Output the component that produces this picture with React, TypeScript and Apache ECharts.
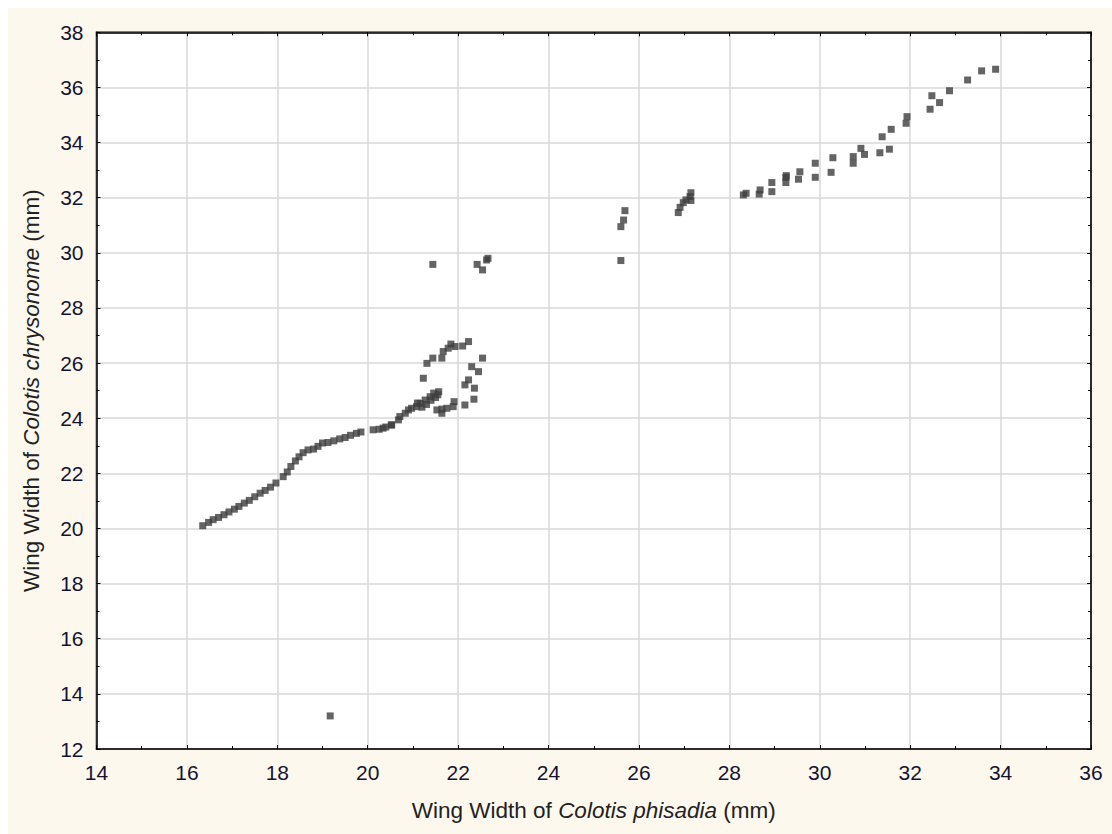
import React, { useEffect, useRef } from "react";
import * as echarts from "echarts";

// Wing width of Colotis phisadia (x) vs Colotis chrysonome (y), in mm
const lowerTrend: [number, number][] = [
  [16.35, 20.1], [16.48, 20.22], [16.58, 20.32], [16.7, 20.4], [16.82, 20.5],
  [16.93, 20.6], [17.05, 20.7], [17.15, 20.8], [17.27, 20.92], [17.38, 21.02],
  [17.5, 21.15], [17.62, 21.28], [17.73, 21.38], [17.85, 21.5], [17.97, 21.65],
  [18.13, 21.88], [18.22, 22.05], [18.3, 22.25], [18.4, 22.45], [18.48, 22.6],
  [18.57, 22.75], [18.68, 22.85], [18.8, 22.88], [18.9, 22.98], [19.0, 23.1],
  [19.12, 23.12], [19.25, 23.18], [19.38, 23.25], [19.5, 23.3], [19.62, 23.38],
  [19.75, 23.45], [19.85, 23.5], [20.12, 23.58], [20.25, 23.6], [20.4, 23.68],
  [20.52, 23.75], [20.34, 23.64], [20.53, 23.76], [20.68, 23.94], [20.71, 24.06],
  [20.83, 24.18], [20.97, 24.36], [21.08, 24.42], [21.16, 24.54], [21.27, 24.66],
  [21.38, 24.78], [21.46, 24.91], [21.57, 24.96], [20.9, 24.3], [21.1, 24.55],
  [21.3, 24.5], [21.4, 24.65], [21.5, 24.75], [21.55, 24.85], [21.2, 24.4],
];

const loopPoints: [number, number][] = [
  [21.23, 25.45], [21.31, 25.99], [21.44, 26.18], [21.64, 26.18], [21.67, 26.42],
  [21.78, 26.54], [21.84, 26.69], [21.93, 26.6], [22.1, 26.62], [22.23, 26.78],
  [22.54, 26.18], [22.3, 25.87], [22.45, 25.69], [22.23, 25.39], [22.15, 25.21],
  [22.36, 25.09], [22.35, 24.69], [22.15, 24.48], [21.91, 24.6], [21.89, 24.42],
  [21.75, 24.36], [21.64, 24.18], [21.53, 24.3], [21.64, 24.33],
];

const midPoints: [number, number][] = [
  [21.44, 29.58], [22.42, 29.58], [22.54, 29.38], [22.63, 29.74], [22.66, 29.8],
  [25.6, 29.72], [25.6, 30.95], [25.66, 31.19], [25.69, 31.53],
  [26.87, 31.46], [26.91, 31.65], [26.98, 31.82], [27.04, 31.92], [27.13, 32.04],
  [27.15, 32.18], [27.15, 31.9],
];

const upperCluster: [number, number][] = [
  [28.31, 32.1], [28.37, 32.16], [28.66, 32.13], [28.68, 32.28], [28.94, 32.22],
  [28.94, 32.55], [29.25, 32.55], [29.25, 32.74], [29.26, 32.8], [29.53, 32.67],
  [29.56, 32.94], [29.9, 32.74], [29.9, 33.25], [30.25, 32.92], [30.29, 33.45],
  [30.74, 33.25], [30.74, 33.49], [30.91, 33.79], [30.99, 33.57], [31.33, 33.63],
  [31.54, 33.76], [31.38, 34.21], [31.58, 34.48], [31.91, 34.7], [31.93, 34.94],
  [32.44, 35.21], [32.48, 35.7], [32.65, 35.45], [32.87, 35.88], [33.27, 36.27],
  [33.58, 36.6], [33.89, 36.66],
];

const outliers: [number, number][] = [[19.17, 13.2]];

const xMin = 14;
const xMax = 36;
const yMin = 12;
const yMax = 38;

export default function App() {
  const ref = useRef<HTMLDivElement>(null);

  useEffect(() => {
    if (!ref.current) return;
    const chart = echarts.init(ref.current, null, { renderer: "svg" });
    const font = "Liberation Sans, Arial, sans-serif";
    const labelColor = "#141432";
    const titleStyle = {
      fontSize: 22.5,
      color: "#222",
      fontFamily: font,
      rich: { i: { fontStyle: "italic", fontSize: 22.5, color: "#222", fontFamily: font } },
    };
    const axisCommon = {
      axisLine: { show: true, onZero: false, lineStyle: { color: "#000", width: 1.5 } },
      axisTick: { show: true, inside: true, length: 4, lineStyle: { color: "#000", width: 1 } },
      minorTick: { show: true, splitNumber: 2, length: 3, lineStyle: { color: "#000", width: 1 } },
      splitLine: { show: true, lineStyle: { color: "#d9d9d9", width: 1.5 } },
    };
    chart.setOption({
      animation: false,
      backgroundColor: "#fdf8ee",
      grid: {
        left: 88.5,
        top: 24.3,
        right: 21,
        bottom: 85,
        show: true,
        backgroundColor: "#ffffff",
        borderColor: "#000",
        borderWidth: 1.5,
      },
      xAxis: [
        {
          type: "value",
          min: xMin,
          max: xMax,
          interval: 2,
          position: "bottom",
          ...axisCommon,
          axisLabel: { fontSize: 21, color: labelColor, fontFamily: font, margin: 13 },
          name: "Wing Width of {i|Colotis phisadia} (mm)",
          nameLocation: "middle",
          nameGap: 50,
          nameTextStyle: titleStyle,
        },
        {
          type: "value",
          min: xMin,
          max: xMax,
          interval: 2,
          position: "top",
          ...axisCommon,
          splitLine: { show: false },
          axisLabel: { show: false },
        },
      ],
      yAxis: [
        {
          type: "value",
          min: yMin,
          max: yMax,
          interval: 2,
          position: "left",
          ...axisCommon,
          axisLabel: { fontSize: 21, color: labelColor, fontFamily: font, margin: 13 },
          name: "Wing Width of {i|Colotis chrysonome} (mm)",
          nameLocation: "middle",
          nameGap: 54,
          nameTextStyle: titleStyle,
        },
        {
          type: "value",
          min: yMin,
          max: yMax,
          interval: 2,
          position: "right",
          ...axisCommon,
          splitLine: { show: false },
          axisLabel: { show: false },
        },
      ],
      series: [
        {
          type: "scatter",
          xAxisIndex: 0,
          yAxisIndex: 0,
          symbol: "rect",
          symbolSize: 7,
          itemStyle: { color: "#3d3d3d" },
          data: [...lowerTrend, ...loopPoints, ...midPoints, ...upperCluster, ...outliers],
        },
      ],
    });
    return () => chart.dispose();
  }, []);

  return (
    <div
      ref={ref}
      style={{ position: "fixed", left: 8, top: 8, width: 1104, height: 826 }}
    />
  );
}
